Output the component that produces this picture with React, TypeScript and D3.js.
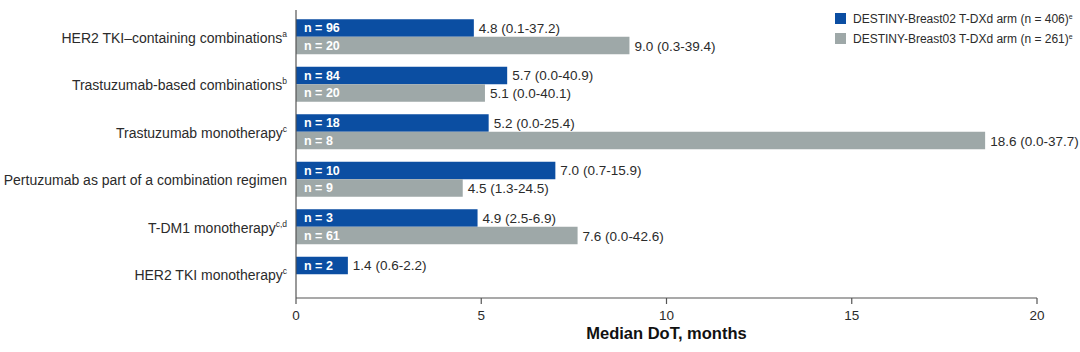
import React from "react";
import * as d3 from "d3";

const categories = [
  "HER2 TKI–containing combinations",
  "Trastuzumab-based combinations",
  "Trastuzumab monotherapy",
  "Pertuzumab as part of a combination regimen",
  "T-DM1 monotherapy",
  "HER2 TKI monotherapy",
];
const superscripts = ["a", "b", "c", "", "c,d", "c"];

const db02Median = [4.8, 5.7, 5.2, 7.0, 4.9, 1.4];
const db02N = [96, 84, 18, 10, 3, 2];
const db02Range = ["0.1-37.2", "0.0-40.9", "0.0-25.4", "0.7-15.9", "2.5-6.9", "0.6-2.2"];

const db03Median = [9.0, 5.1, 18.6, 4.5, 7.6, null];
const db03N = [20, 20, 8, 9, 61, null];
const db03Range = ["0.3-39.4", "0.0-40.1", "0.0-37.7", "1.3-24.5", "0.0-42.6", null];

const xTicks = [0, 5, 10, 15, 20];
const legendLabels = [
  "DESTINY-Breast02 T-DXd arm (n = 406)",
  "DESTINY-Breast03 T-DXd arm (n = 261)",
];

const BLUE = "#0b4ea2";
const GRAY = "#9ea8a8";
const TEXT = "#2b2b2b";
const FONT = "'Liberation Sans', Arial, sans-serif";

export default function App() {
  const width = 1080;
  const height = 352;
  const left = 296;
  const right = 1037;
  const top = 13;
  const bottom = 298;

  const x = d3.scaleLinear().domain([0, 20]).range([left, right]);
  const y = d3.scaleBand<number>().domain(d3.range(categories.length)).range([top, bottom]);
  const barH = 17.5;

  return (
    <svg
      width={width}
      height={height}
      style={{ position: "absolute", left: 0, top: 0, background: "#fff" }}
      fontFamily={FONT}
    >
      {categories.map((c, i) => {
        const cy = (y(i) as number) + y.bandwidth() / 2;
        const y1 = cy - barH;
        const y2 = cy;
        return (
          <g key={c}>
            <text x={287} y={cy + 6} textAnchor="end" fontSize={14} fill={TEXT}>
              {c}
              {superscripts[i] && (
                <tspan fontSize={8.5} dy={-6}>
                  {superscripts[i]}
                </tspan>
              )}
            </text>
            <rect x={x(0)} y={y1} width={x(db02Median[i]) - x(0)} height={barH} fill={BLUE} />
            <text x={x(0) + 8} y={y1 + 13} fontSize={12.5} fontWeight="bold" fill="#fff">
              n = {db02N[i]}
            </text>
            <text x={x(db02Median[i]) + 5} y={y1 + 13.5} fontSize={13.5} fill={TEXT}>
              {db02Median[i].toFixed(1)} ({db02Range[i]})
            </text>
            {db03Median[i] != null && (
              <>
                <rect
                  x={x(0)}
                  y={y2}
                  width={x(db03Median[i] as number) - x(0)}
                  height={barH}
                  fill={GRAY}
                />
                <text x={x(0) + 8} y={y2 + 13} fontSize={12.5} fontWeight="bold" fill="#fff">
                  n = {db03N[i]}
                </text>
                <text x={x(db03Median[i] as number) + 5} y={y2 + 14} fontSize={13.5} fill={TEXT}>
                  {(db03Median[i] as number).toFixed(1)} ({db03Range[i]})
                </text>
              </>
            )}
          </g>
        );
      })}

      {/* axes */}
      <line x1={left} x2={left} y1={10} y2={bottom} stroke="#555" strokeWidth={1.2} />
      <line x1={left} x2={right} y1={bottom} y2={bottom} stroke="#555" strokeWidth={1.2} />
      {xTicks.map((t) => (
        <g key={t}>
          <line x1={x(t)} x2={x(t)} y1={bottom} y2={bottom + 6} stroke="#555" strokeWidth={1.2} />
          <text x={x(t)} y={bottom + 22} textAnchor="middle" fontSize={13.5} fill={TEXT}>
            {t}
          </text>
        </g>
      ))}
      <text
        x={(left + right) / 2}
        y={339}
        textAnchor="middle"
        fontSize={16.5}
        fontWeight="bold"
        fill="#111"
      >
        Median DoT, months
      </text>

      {/* legend */}
      {legendLabels.map((l, i) => (
        <g key={l} transform={`translate(835, ${13 + i * 20})`}>
          <rect x={0} y={0} width={11} height={11} fill={i === 0 ? BLUE : GRAY} />
          <text x={18} y={10} fontSize={12} fill={TEXT}>
            {l}
            <tspan fontSize={7} dy={-4}>
              e
            </tspan>
          </text>
        </g>
      ))}
    </svg>
  );
}
